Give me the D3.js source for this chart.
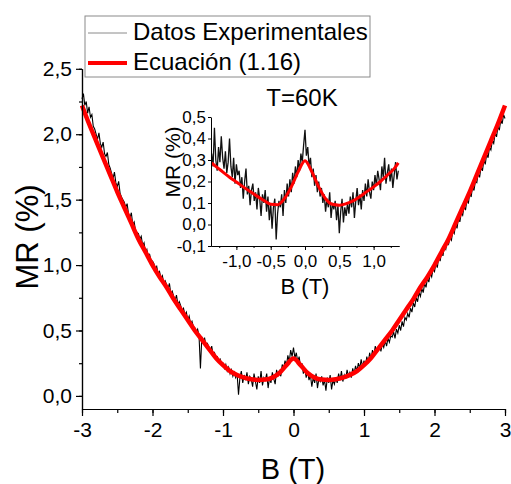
<!DOCTYPE html>
<html lang="es">
<head>
<meta charset="UTF-8">
<title>MR vs B</title>
<script src="https://cdn.jsdelivr.net/npm/d3@7/dist/d3.min.js"></script>
<style>
    body { margin: 0; background: #fff; }
    text { font-family: Arial, "Liberation Sans", sans-serif; fill: #000; }
</style>
</head>
<body>
<svg id="main" width="511" height="484"></svg>
<script>
    // datos experimentales, B de -3 a 3 T con paso 0.02
    const mainStart = -3, mainStep = 0.02;
    const mainMR = [
        2.27, 2.31, 2.22, 2.25, 2.16, 2.21, 2.13, 2.15, 2.06, 2.04,
        2.00, 1.96, 2.01, 1.93, 1.90, 1.94, 1.85, 1.83, 1.86, 1.77,
        1.74, 1.70, 1.66, 1.71, 1.63, 1.60, 1.64, 1.55, 1.52, 1.50,
        1.48, 1.44, 1.47, 1.39, 1.36, 1.40, 1.31, 1.33, 1.26, 1.25,
        1.24, 1.20, 1.22, 1.15, 1.17, 1.10, 1.12, 1.06, 1.08, 1.03,
        1.03, 1.01, 0.97, 0.99, 0.93, 0.95, 0.90, 0.92, 0.86, 0.88,
        0.85, 0.82, 0.86, 0.78, 0.80, 0.76, 0.73, 0.77, 0.70, 0.72,
        0.69, 0.65, 0.67, 0.62, 0.64, 0.58, 0.61, 0.55, 0.57, 0.53,
        0.52, 0.49, 0.51, 0.46, 0.21, 0.45, 0.42, 0.44, 0.38, 0.40,
        0.37, 0.34, 0.38, 0.31, 0.33, 0.29, 0.30, 0.26, 0.28, 0.24,
        0.25, 0.21, 0.24, 0.19, 0.22, 0.17, 0.20, 0.15, 0.18, 0.14,
        0.17, 0.01, 0.14, 0.19, 0.10, 0.16, 0.12, 0.18, 0.09, 0.15,
        0.13, 0.07, 0.17, 0.11, 0.05, 0.15, 0.10, 0.19, 0.08, 0.14,
        0.12, 0.17, 0.06, 0.14, 0.10, 0.18, 0.13, 0.09, 0.20, 0.15,
        0.19, 0.15, 0.24, 0.21, 0.27, 0.23, 0.31, 0.26, 0.35, 0.30,
        0.37, 0.29, 0.33, 0.26, 0.30, 0.22, 0.25, 0.17, 0.21, 0.14,
        0.19, 0.12, 0.16, 0.07, 0.14, 0.10, 0.17, 0.06, 0.13, 0.11,
        0.15, 0.08, 0.12, 0.04, 0.14, 0.10, 0.16, 0.05, 0.12, 0.09,
        0.14, 0.10, 0.17, 0.12, 0.19, 0.11, 0.16, 0.13, 0.20, 0.15,
        0.18, 0.14, 0.21, 0.17, 0.23, 0.19, 0.25, 0.21, 0.28, 0.22,
        0.27, 0.23, 0.30, 0.25, 0.33, 0.28, 0.35, 0.31, 0.38, 0.33,
        0.35, 0.39, 0.34, 0.40, 0.37, 0.42, 0.38, 0.44, 0.41, 0.46,
        0.45, 0.49, 0.44, 0.51, 0.48, 0.54, 0.50, 0.57, 0.53, 0.60,
        0.58, 0.63, 0.60, 0.67, 0.64, 0.71, 0.68, 0.75, 0.72, 0.79,
        0.76, 0.82, 0.79, 0.86, 0.83, 0.90, 0.87, 0.94, 0.91, 0.97,
        0.95, 1.01, 0.98, 1.06, 1.03, 1.10, 1.07, 1.14, 1.12, 1.18,
        1.16, 1.21, 1.19, 1.26, 1.24, 1.31, 1.28, 1.36, 1.33, 1.40,
        1.38, 1.45, 1.42, 1.50, 1.47, 1.55, 1.52, 1.60, 1.57, 1.64,
        1.63, 1.70, 1.67, 1.75, 1.72, 1.80, 1.77, 1.85, 1.82, 1.90,
        1.88, 1.95, 1.93, 2.01, 1.98, 2.06, 2.03, 2.11, 2.08, 2.15,
        2.12
    ];

    // Ecuación (1.16), B de -3 a 3 T con paso 0.1
    const fitStart = -3, fitStep = 0.1;
    const fitMR = [
        2.22, 2.08, 1.95, 1.82, 1.69, 1.56, 1.44, 1.32, 1.20, 1.10,
        1.00, 0.91, 0.83, 0.74, 0.66, 0.58, 0.50, 0.43, 0.36, 0.29,
        0.235, 0.19, 0.16, 0.14, 0.128, 0.122, 0.125, 0.14, 0.175, 0.235,
        0.285,
        0.235, 0.175, 0.14, 0.125, 0.122, 0.128, 0.14, 0.16, 0.19, 0.235,
        0.29, 0.36, 0.43, 0.50, 0.58, 0.66, 0.74, 0.83, 0.91, 1.00,
        1.10, 1.20, 1.32, 1.44, 1.56, 1.69, 1.82, 1.95, 2.08, 2.22
    ];

    // inset T=60K, B de -1.36 a 1.36 T con paso 0.02
    const insetStart = -1.36, insetStep = 0.02;
    const insetMR = [
        0.33, 0.27, 0.45, 0.30, 0.25, 0.36, 0.29, 0.41, 0.31, 0.26,
        0.34, 0.24, 0.29, 0.40, 0.27, 0.22, 0.31, 0.19, 0.28, 0.23,
        0.25, 0.17, 0.22, 0.12, 0.20, 0.26, 0.14, 0.18, 0.09, 0.16,
        0.19, 0.11, 0.15, 0.07, 0.17, 0.12, 0.04, 0.14, 0.10, 0.16,
        0.06, 0.13, 0.02, 0.10, -0.02, 0.08, 0.12, -0.07, 0.05, 0.11,
        0.08, 0.14, 0.04, 0.16, 0.10, 0.19, 0.13, 0.21, 0.15, 0.24,
        0.19, 0.27, 0.22, 0.30, 0.25, 0.33, 0.29, 0.37, 0.44, 0.32,
        0.36, 0.27, 0.31, 0.22, 0.26, 0.18, 0.23, 0.15, 0.20, 0.13,
        0.17, 0.10, 0.14, 0.06, 0.12, 0.08, 0.15, 0.03, 0.10, 0.07,
        0.11, 0.02, 0.09, -0.04, 0.06, 0.12, 0.01, 0.08, 0.04, 0.10,
        0.05, 0.13, 0.08, 0.15, 0.03, 0.11, 0.17, 0.09, 0.14, 0.07,
        0.16, 0.11, 0.19, 0.13, 0.21, 0.15, 0.12, 0.20, 0.16, 0.23,
        0.18, 0.25, 0.21, 0.16, 0.27, 0.22, 0.31, 0.19, 0.24, 0.28,
        0.20, 0.26, 0.17, 0.23, 0.29, 0.21, 0.25
    ];
    const insetFitB = [-1.36, -1.3, -1.2, -1.1, -1.0, -0.9, -0.8, -0.7, -0.6, -0.5,
        -0.4, -0.3, -0.2, -0.1, 0, 0.1, 0.2, 0.3, 0.4, 0.5,
        0.6, 0.7, 0.8, 0.9, 1.0, 1.1, 1.2, 1.3, 1.36];
    const insetFitMR = [0.287, 0.27, 0.245, 0.22, 0.198, 0.175, 0.153, 0.132, 0.112, 0.094,
        0.092, 0.12, 0.175, 0.245, 0.297, 0.245, 0.175, 0.12, 0.094, 0.09,
        0.097, 0.11, 0.13, 0.153, 0.175, 0.20, 0.23, 0.26, 0.287];

    const mainXTicks = [-3, -2, -1, 0, 1, 2, 3];
    const mainYTicks = [0, 0.5, 1.0, 1.5, 2.0, 2.5];
    const insetXTicks = [-1.0, -0.5, 0, 0.5, 1.0];
    const insetYTicks = [-0.1, 0, 0.1, 0.2, 0.3, 0.4, 0.5];

    let svg = d3.select('svg#main');
    let oneDec = d3.format('.1f');
    // coma decimal y guion normal
    let fmt = v => oneDec(v).replace('.', ',').replace('\u2212', '-');
    let fmtInt = v => d3.format('d')(v).replace('\u2212', '-');

    function pts(start, step, vals) {
        return vals.map((v, i) => ({b: start + i * step, mr: v}));
    }

    // ---- grafico principal ----
    let x = d3.scaleLinear().domain([-3, 3]).range([82, 505]);
    let y = d3.scaleLinear().domain([-0.1, 2.5]).range([409, 68.8]);

    let line = d3.line().x(d => x(d.b)).y(d => y(d.mr));

    svg.append('path')
        .datum(pts(mainStart, mainStep, mainMR))
        .attr('d', line)
        .attr('fill', 'none')
        .style('stroke', '#000')
        .style('stroke-width', '1.1px');

    svg.append('path')
        .datum(pts(fitStart, fitStep, fitMR))
        .attr('d', line.curve(d3.curveMonotoneX))
        .attr('fill', 'none')
        .style('stroke', '#ff0000')
        .style('stroke-width', '4.5px');

    svg.append('g')
        .attr('transform', 'translate(0,409)')
        .call(d3.axisBottom(x).tickValues(d3.range(-3, 3.01, 0.5)).tickFormat('').tickSize(4).tickSizeOuter(0));
    let gx = svg.append('g')
        .attr('transform', 'translate(0,409)')
        .call(d3.axisBottom(x).tickValues(mainXTicks).tickFormat(fmtInt).tickSize(7).tickSizeOuter(0));
    gx.selectAll('text').attr('font-size', 21).attr('dy', '0.85em').style('font-family', 'Arial');

    svg.append('g')
        .attr('transform', 'translate(82,0)')
        .call(d3.axisLeft(y).tickValues(d3.range(0, 2.51, 0.25)).tickFormat('').tickSize(3).tickSizeOuter(0));
    let gy = svg.append('g')
        .attr('transform', 'translate(82,0)')
        .call(d3.axisLeft(y).tickValues(mainYTicks).tickFormat(fmt).tickSize(6).tickSizeOuter(0));
    gy.selectAll('text').attr('font-size', 21).attr('x', -10).style('font-family', 'Arial');
    svg.selectAll('.domain, .tick line').style('stroke', '#000').style('stroke-width', '1.2px');

    svg.append('text').text('B (T)')
        .attr('x', 293).attr('y', 479)
        .attr('text-anchor', 'middle').attr('font-size', 29);
    svg.append('text').text('MR (%)')
        .attr('transform', 'translate(38,237) rotate(-90)')
        .attr('text-anchor', 'middle').attr('font-size', 31);

    // ---- inset ----
    let xi = d3.scaleLinear().domain([-1.37, 1.37]).range([211, 399]);
    let yi = d3.scaleLinear().domain([-0.1, 0.5]).range([246, 117]);
    let lineI = d3.line().x(d => xi(d.b)).y(d => yi(d.mr));

    let inset = svg.append('g');
    inset.append('path')
        .datum(pts(insetStart, insetStep, insetMR))
        .attr('d', lineI)
        .attr('fill', 'none')
        .style('stroke', '#111')
        .style('stroke-width', '1.3px');
    inset.append('path')
        .datum(insetFitB.map((b, i) => ({b: b, mr: insetFitMR[i]})))
        .attr('d', lineI.curve(d3.curveMonotoneX))
        .attr('fill', 'none')
        .style('stroke', '#ff0000')
        .style('stroke-width', '3px');

    inset.append('g')
        .attr('transform', 'translate(0,246)')
        .call(d3.axisBottom(xi).tickValues(d3.range(-1.25, 1.26, 0.25)).tickFormat('').tickSize(2).tickSizeOuter(0));
    let gxi = inset.append('g')
        .attr('transform', 'translate(0,246)')
        .call(d3.axisBottom(xi).tickValues(insetXTicks).tickFormat(fmt).tickSize(4).tickSizeOuter(0));
    gxi.selectAll('text').attr('font-size', 17).attr('dy', '0.8em').style('font-family', 'Arial');

    let gyi = inset.append('g')
        .attr('transform', 'translate(211,0)')
        .call(d3.axisLeft(yi).tickValues(insetYTicks).tickFormat(fmt).tickSize(3).tickSizeOuter(0));
    gyi.selectAll('text').attr('font-size', 17).attr('x', -5).style('font-family', 'Arial');
    inset.selectAll('.domain, .tick line').style('stroke', '#000').style('stroke-width', '1px');

    inset.append('text').text('B (T)')
        .attr('x', 305).attr('y', 294)
        .attr('text-anchor', 'middle').attr('font-size', 22);
    inset.append('text').text('MR (%)')
        .attr('transform', 'translate(180,162) rotate(-90)')
        .attr('text-anchor', 'middle').attr('font-size', 21);
    inset.append('text').text('T=60K')
        .attr('x', 302).attr('y', 106)
        .attr('text-anchor', 'middle').attr('font-size', 24);

    // ---- leyenda ----
    let legend = svg.append('g');
    legend.append('rect')
        .attr('x', 85).attr('y', 16).attr('width', 285).attr('height', 61)
        .attr('fill', '#fff').attr('stroke', '#8a8a8a').attr('stroke-width', 1);
    legend.append('line')
        .attr('x1', 88).attr('x2', 127).attr('y1', 33).attr('y2', 33)
        .style('stroke', '#8a8a8a').style('stroke-width', '1px');
    legend.append('line')
        .attr('x1', 88).attr('x2', 127).attr('y1', 63).attr('y2', 63)
        .style('stroke', '#ff0000').style('stroke-width', '4px');
    legend.append('text').text('Datos Experimentales')
        .attr('x', 133).attr('y', 40).attr('font-size', 24);
    legend.append('text').text('Ecuación (1.16)')
        .attr('x', 133).attr('y', 70).attr('font-size', 24);
</script>
</body>
</html>
